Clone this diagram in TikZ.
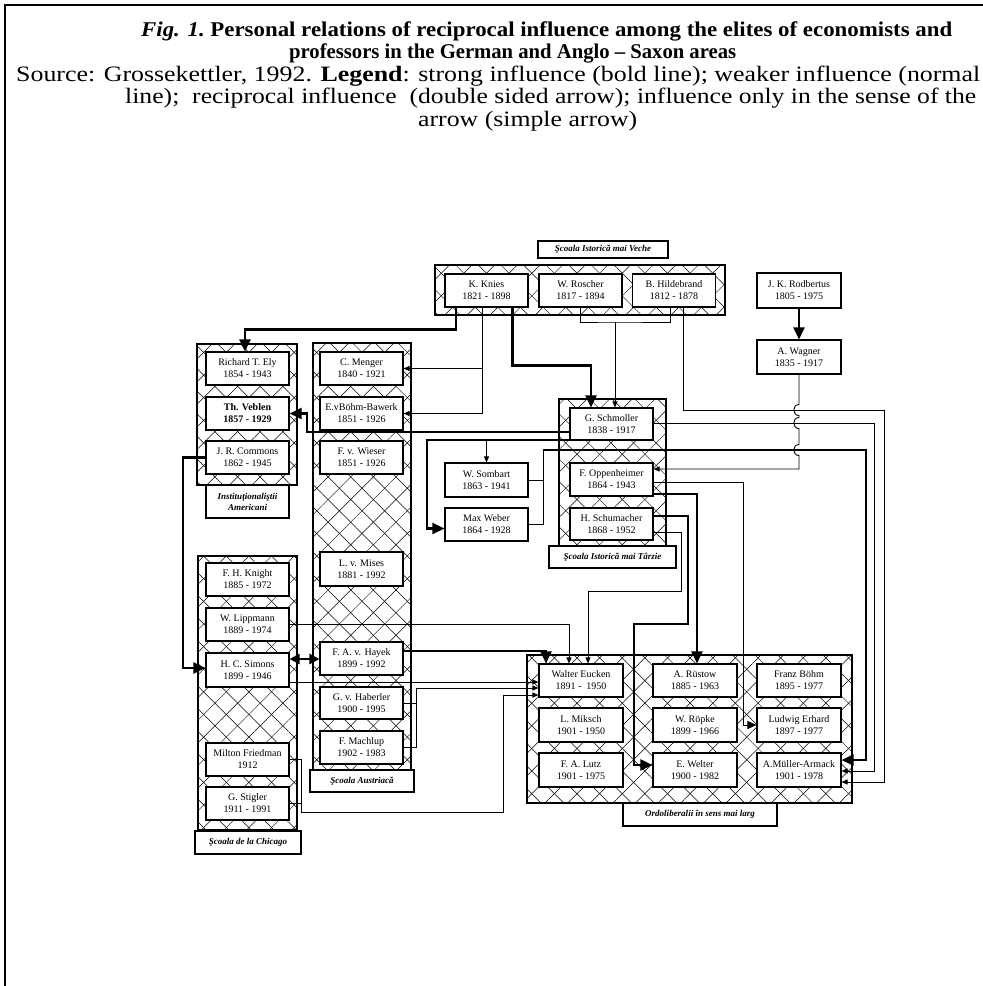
\documentclass[tikz,border=0pt]{standalone}
\usepackage{fontspec}
\setmainfont{Liberation Serif}
\usepackage{graphicx}
\usetikzlibrary{arrows.meta,patterns.meta}
\begin{document}
\begin{tikzpicture}[x=1pt,y=-1pt,
  pbox/.style={draw,line width=1.1pt,fill=white,minimum width=83pt,minimum height=33pt,inner sep=1pt,align=center,font=\fontsize{10}{12}\selectfont},
  lbox/.style={draw,line width=1.1pt,fill=white,inner sep=1pt,align=center,font=\fontsize{9}{11}\selectfont\bfseries\itshape},
  grp/.style={draw,line width=1.2pt},
  hatchA/.style={pattern={Lines[angle=45,distance=16pt,line width=0.5pt]}},
  hatchB/.style={pattern={Lines[angle=-45,distance=16pt,line width=0.5pt]}},
  strong/.style={line width=2.3pt},
  weak/.style={line width=0.9pt},
  bigtip/.style={-{Triangle[length=12pt,width=11pt]}},
  smalltip/.style={-{Triangle[length=6pt,width=5pt]}},
  hdrT/.style={anchor=base west,inner sep=0pt,font=\fontsize{21}{22}\selectfont},
  hdrS/.style={anchor=base west,inner sep=0pt,font=\fontsize{22}{22}\selectfont}
]
\useasboundingbox (0,0) rectangle (983,986);
\fill[white] (0,0) rectangle (983,986);
% frame
\draw[line width=2pt] (983,5) -- (5,5) -- (5,986);

% header
\node[hdrT] (t1) at (141,36) {\resizebox{811pt}{\height}{\bfseries\itshape Fig. 1.\upshape\ Personal relations of reciprocal influence among the elites of economists and}};
\node[hdrT] (t2) at (289,58) {\resizebox{447pt}{\height}{\bfseries professors in the German and Anglo – Saxon areas}};
\node[hdrS] (s1) at (16,81) {\resizebox{964pt}{\height}{Source: Grossekettler, 1992. \textbf{Legend}: strong influence (bold line); weaker influence (normal}};
\node[hdrS] (s2) at (125,103.5) {\resizebox{851pt}{\height}{line);~ reciprocal influence~ (double sided arrow); influence only in the sense of the}};
\node[hdrS] (s3) at (418,126) {\resizebox{219pt}{\height}{arrow (simple arrow)}};

% groups (hatched)
\foreach \a/\b in {{435,265}/{725,315},{197,344}/{297,485},{313,343}/{411,770},{198,556}/{297,830},{559,399}/{666,546},{527,655}/{852,803}}{
  \path[hatchA] (\a) rectangle (\b);
  \path[hatchB] (\a) rectangle (\b);
  \draw[grp] (\a) rectangle (\b);
}

% group labels
\node[lbox,minimum width=130pt,minimum height=17pt] (lVeche) at (603,249.5) {Şcoala Istorică mai Veche};
\node[lbox,minimum width=83pt,minimum height=33pt] (lInst) at (247.5,501.5) {Instituţionaliştii\\Americani};
\node[lbox,minimum width=104pt,minimum height=22pt] (lAustr) at (362,781) {Şcoala Austriacă};
\node[lbox,minimum width=106pt,minimum height=23pt] (lChic) at (248,842.5) {Şcoala de la Chicago};
\node[lbox,minimum width=127pt,minimum height=22pt] (lTarz) at (612.5,557) {Şcoala Istorică mai Târzie};
\node[lbox,minimum width=154pt,minimum height=23pt] (lOrdo) at (700,814.5) {Ordoliberalii în sens mai larg};

% persons
\node[pbox] (knies) at (486.5,290.5) {K. Knies\\1821 - 1898};
\node[pbox] (roscher) at (580.5,290.5) {W. Roscher\\1817 - 1894};
\node[pbox] (hildebrand) at (674,290.5) {B. Hildebrand\\1812 - 1878};
\node[pbox,minimum width=84pt,minimum height=35pt] (rodb) at (799,290.5) {J. K. Rodbertus\\1805 - 1975};
\node[pbox,minimum width=84pt,minimum height=34pt] (wagner) at (799,357) {A. Wagner\\1835 - 1917};
\node[pbox] (ely) at (247.5,368.5) {Richard T. Ely\\1854 - 1943};
\node[pbox,font=\fontsize{10}{12}\selectfont\bfseries] (veblen) at (247.5,413.5) {Th. Veblen\\1857 - 1929};
\node[pbox] (commons) at (247.5,457.5) {J. R. Commons\\1862 - 1945};
\node[pbox] (menger) at (361.5,368.5) {C. Menger\\1840 - 1921};
\node[pbox] (boehm) at (361.5,413.5) {E.vBöhm-Bawerk\\1851 - 1926};
\node[pbox] (wieser) at (361.5,457.5) {F. v. Wieser\\1851 - 1926};
\node[pbox,minimum height=34pt] (mises) at (361.5,569) {L. v. Mises\\1881 - 1992};
\node[pbox] (hayek) at (361.5,658.5) {F. A. v. Hayek\\1899 - 1992};
\node[pbox,minimum height=32pt] (haberler) at (361.5,703) {G. v. Haberler\\1900 - 1995};
\node[pbox] (machlup) at (361.5,747.5) {F. Machlup\\1902 - 1983};
\node[pbox] (knight) at (247.5,579.5) {F. H. Knight\\1885 - 1972};
\node[pbox] (lippmann) at (247.5,624.5) {W. Lippmann\\1889 - 1974};
\node[pbox,minimum height=34pt] (simons) at (247.5,670) {H. C. Simons\\1899 - 1946};
\node[pbox] (friedman) at (247.5,759.5) {Milton Friedman\\1912};
\node[pbox] (stigler) at (247.5,803.5) {G. Stigler\\1911 - 1991};
\node[pbox,minimum height=32pt] (schmoller) at (611.5,424) {G. Schmoller\\1838 - 1917};
\node[pbox] (oppenheimer) at (611.5,479.5) {F. Oppenheimer\\1864 - 1943};
\node[pbox,minimum height=32pt] (schumacher) at (611.5,524) {H. Schumacher\\1868 - 1952};
\node[pbox,minimum height=34pt] (sombart) at (486.5,480) {W. Sombart\\1863 - 1941};
\node[pbox] (weber) at (486.5,524.5) {Max Weber\\1864 - 1928};
\node[pbox,minimum width=84pt] (eucken) at (581,680.5) {Walter Eucken\\1891 -\ \ 1950};
\node[pbox,minimum width=84pt] (ruestow) at (695,680.5) {A. Rüstow\\1885 - 1963};
\node[pbox,minimum width=84pt] (fboehm) at (799,680.5) {Franz Böhm\\1895 - 1977};
\node[pbox,minimum width=84pt,minimum height=34pt] (miksch) at (581,725) {L. Miksch\\1901 - 1950};
\node[pbox,minimum width=84pt,minimum height=34pt] (roepke) at (695,725) {W. Röpke\\1899 - 1966};
\node[pbox,minimum width=84pt,minimum height=34pt] (erhard) at (799,725) {Ludwig Erhard\\1897 - 1977};
\node[pbox,minimum width=84pt,minimum height=34pt] (lutz) at (581,770) {F. A. Lutz\\1901 - 1975};
\node[pbox,minimum width=84pt,minimum height=34pt] (welter) at (695,770) {E. Welter\\1900 - 1982};
\node[pbox,minimum width=84pt,minimum height=34pt] (mueller) at (799,770) {A.Müller-Armack\\1901 - 1978};

% connectors
\draw[strong,bigtip] (rodb.south) -- (wagner.north);
\draw[strong,bigtip] ([xshift=11.5pt]knies.south west) -- ++(0,22) -| ([xshift=-2.5pt]ely.north);
\coordinate (kA) at ([xshift=38pt]knies.south west);
\draw[weak,smalltip] (kA) |- (boehm.east);
\draw[weak,smalltip] (kA |- menger.east) -- (menger.east);
\draw[strong,bigtip] ([xshift=68pt]knies.south west) -- ++(0,58) -| ([xshift=-20.5pt]schmoller.north);
\coordinate (rhj) at (615,322);
\draw[weak] (roscher.south) |- (rhj) -| ([xshift=-4pt]hildebrand.south);
\draw[weak,smalltip] (rhj) -- ([xshift=3.5pt]schmoller.north);
\draw[weak,smalltip] ([xshift=9pt]hildebrand.south) -- (683,410) -- (884,410) |- ([yshift=-12pt]mueller.east);
\draw[weak,smalltip] ([yshift=1pt]schmoller.east) -- (874,423) |- ([yshift=-1pt]mueller.east);
\coordinate (sw) at (543,450);
\draw[weak] (sombart.east) -| (sw);
\draw[weak] (weber.east) -| (sw);
\draw[strong,bigtip] (sw) -- (866,450) |- ([yshift=10pt]mueller.east);
\draw[weak,smalltip] (wagner.south) -- (799,404.5) .. controls (792,404.5) and (792,415.5) .. (799,415.5) -- (799,417.5) .. controls (792,417.5) and (792,428.5) .. (799,428.5) -- (799,444.5) .. controls (792,444.5) and (792,455.5) .. (799,455.5) -- (799,469) -- ([yshift=10.5pt]oppenheimer.east);
\draw[weak,-{Triangle[length=9pt,width=8pt]}] ([yshift=-2.5pt]oppenheimer.east) -- (743,482) |- (erhard.west);
\draw[strong,bigtip] ([yshift=-14.5pt]oppenheimer.east) -| ([xshift=2pt]ruestow.north);
\draw[strong,bigtip] ([yshift=8pt]schumacher.east) -- (688,516) -- (688,624) -- (634,624) |- ([yshift=5pt]welter.west);
\draw[weak,smalltip] ([yshift=-8pt]schumacher.east) -- (681,532) -- (681,591) -| ([xshift=7pt]eucken.north);
\draw[weak,smalltip] (lippmann.east) -| ([xshift=-12pt]eucken.north);
\draw[strong,bigtip] ([yshift=7.5pt]hayek.east) -| ([xshift=-35pt]eucken.north);
\draw[strong,{Triangle[length=10pt,width=10pt]}-{Triangle[length=10pt,width=10pt]}] ([yshift=11pt]simons.east) -- ([yshift=11pt]simons.east -| hayek.west);
\draw[weak,smalltip] ([yshift=-12pt]simons.east) -- ([yshift=-12pt]simons.east -| eucken.west);
\coordinate (hm) at (416,688);
\draw[weak] (haberler.east) -| (hm);
\draw[weak] (machlup.east) -| (hm);
\draw[weak,smalltip] (hm) -- (hm -| eucken.west);
\coordinate (fs) at (301,812);
\draw[weak] (friedman.east) -| (fs);
\draw[weak] (stigler.east) -| (fs);
\draw[weak,smalltip] (fs) -- (503,812) -- (503,695) -- ([yshift=-14.5pt]eucken.west);
\draw[strong,bigtip] (commons.west) -- (183,457.5) |- ([yshift=2pt]simons.west);
\draw[strong,bigtip] ([yshift=-8pt]schmoller.west) -- (307,432) |- (veblen.east);
\coordinate (sch2) at ([yshift=-16pt]schmoller.west);
\draw[strong,bigtip] (sch2) -- (427,440) |- ([yshift=-4pt]weber.west);
\draw[weak,smalltip] (sch2 -| sombart.north) -- (sombart.north);
\end{tikzpicture}
\end{document}
